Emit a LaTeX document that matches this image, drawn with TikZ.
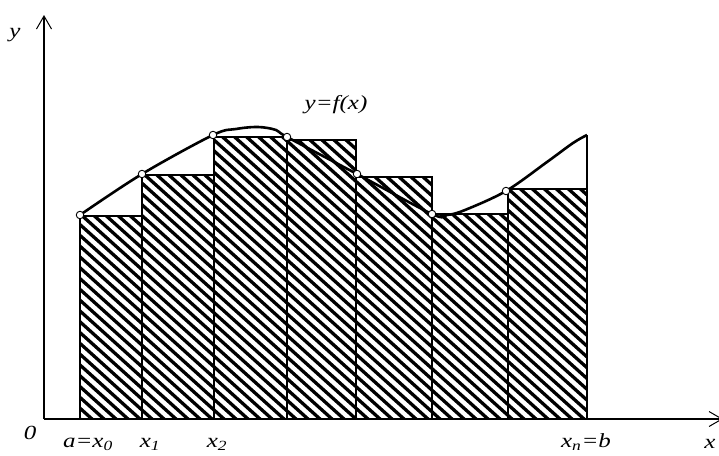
\documentclass[tikz,border=0pt]{standalone}
\usepackage{fontspec}
\usepackage{graphicx}
\setmainfont{Liberation Serif}
\usetikzlibrary{arrows.meta}
\tikzset{
  axis/.style={line width=1.2pt, -{Straight Barb[length=13pt,width=15pt,line width=1pt]}},
  bar/.style={line width=1.3pt},
  hatchline/.style={line width=3.3pt},
  curve/.style={line width=2.6pt, line join=round},
  pt/.style={circle, draw, fill=white, line width=0.9pt, inner sep=0pt, minimum size=7.5pt},
  lbl/.style={inner sep=0pt, font=\fontsize{20}{22}\selectfont\itshape}
}
\newcommand{\wide}[1]{\scalebox{1.25}[1]{#1}}
\begin{document}
\begin{tikzpicture}[x=1pt,y=-1pt]
\useasboundingbox (0,0) rectangle (719,455);
% axes
\coordinate (O) at (44,419);
\coordinate (ytip) at (44,15);
\coordinate (xtip) at (723,419);
% curve points
\coordinate (c0) at (80,215);
\coordinate (c1) at (142,174);
\coordinate (c2) at (213,135);
\coordinate (c3) at (287,137);
\coordinate (c4) at (357,174);
\coordinate (c5) at (432,214);
\coordinate (c6) at (506,191);
\coordinate (cn) at (587,135);
% hatching
\begin{scope}
\clip (80,419) rectangle (142,216)
      (142,419) rectangle (214,175)
      (214,419) rectangle (287,137)
      (287,419) rectangle (356,140)
      (356,419) rectangle (432,177)
      (432,419) rectangle (508,214)
      (508,419) rectangle (587,189);
\foreach \k in {0,...,72} {
  \draw[hatchline] ({80+12*\k+10},428) -- ({80+12*\k-340},113);
}
\end{scope}
% rectangles
\draw[bar] (80,419) rectangle (142,216);
\draw[bar] (142,419) rectangle (214,175);
\draw[bar] (214,419) rectangle (287,137);
\draw[bar] (287,419) rectangle (356,140);
\draw[bar] (356,419) rectangle (432,177);
\draw[bar] (432,419) rectangle (508,214);
\draw[bar] (508,419) rectangle (587,189);
\draw[bar] (587,189) -- (cn);
% axes
\draw[axis] (O) -- (ytip);
\draw[axis] (O) -- (xtip);
% curve
\draw[curve] plot[smooth, tension=0.55] coordinates {
  (80,215) (142,174) (213,135) (236,129) (258,127) (276,130) (287,137)
  (357,174) (432,214) (447,215) (465,210) (506,191) (547,162) (573,143) (587,135)};
% points
\foreach \c in {c0,c1,c2,c3,c4,c5,c6} \node[pt] (n\c) at (\c) {};
% labels
\node[lbl, anchor=base] (ly) at (15,37) {\wide{y}};
\node[lbl, anchor=base] (l0) at (30,439) {\wide{0}};
\node[lbl, anchor=base] (la) at (88,447) {\wide{a=x\textsubscript{0}}};
\node[lbl, anchor=base] (l1) at (150,447) {\wide{x\textsubscript{1}}};
\node[lbl, anchor=base] (l2) at (217,447) {\wide{x\textsubscript{2}}};
\node[lbl, anchor=base] (lb) at (586,447) {\wide{x\textsubscript{n}=b}};
\node[lbl, anchor=base] (lx) at (710,448) {\wide{x}};
\node[lbl, anchor=base] (lf) at (336,109) {\wide{y=f(x)}};
\end{tikzpicture}
\end{document}
